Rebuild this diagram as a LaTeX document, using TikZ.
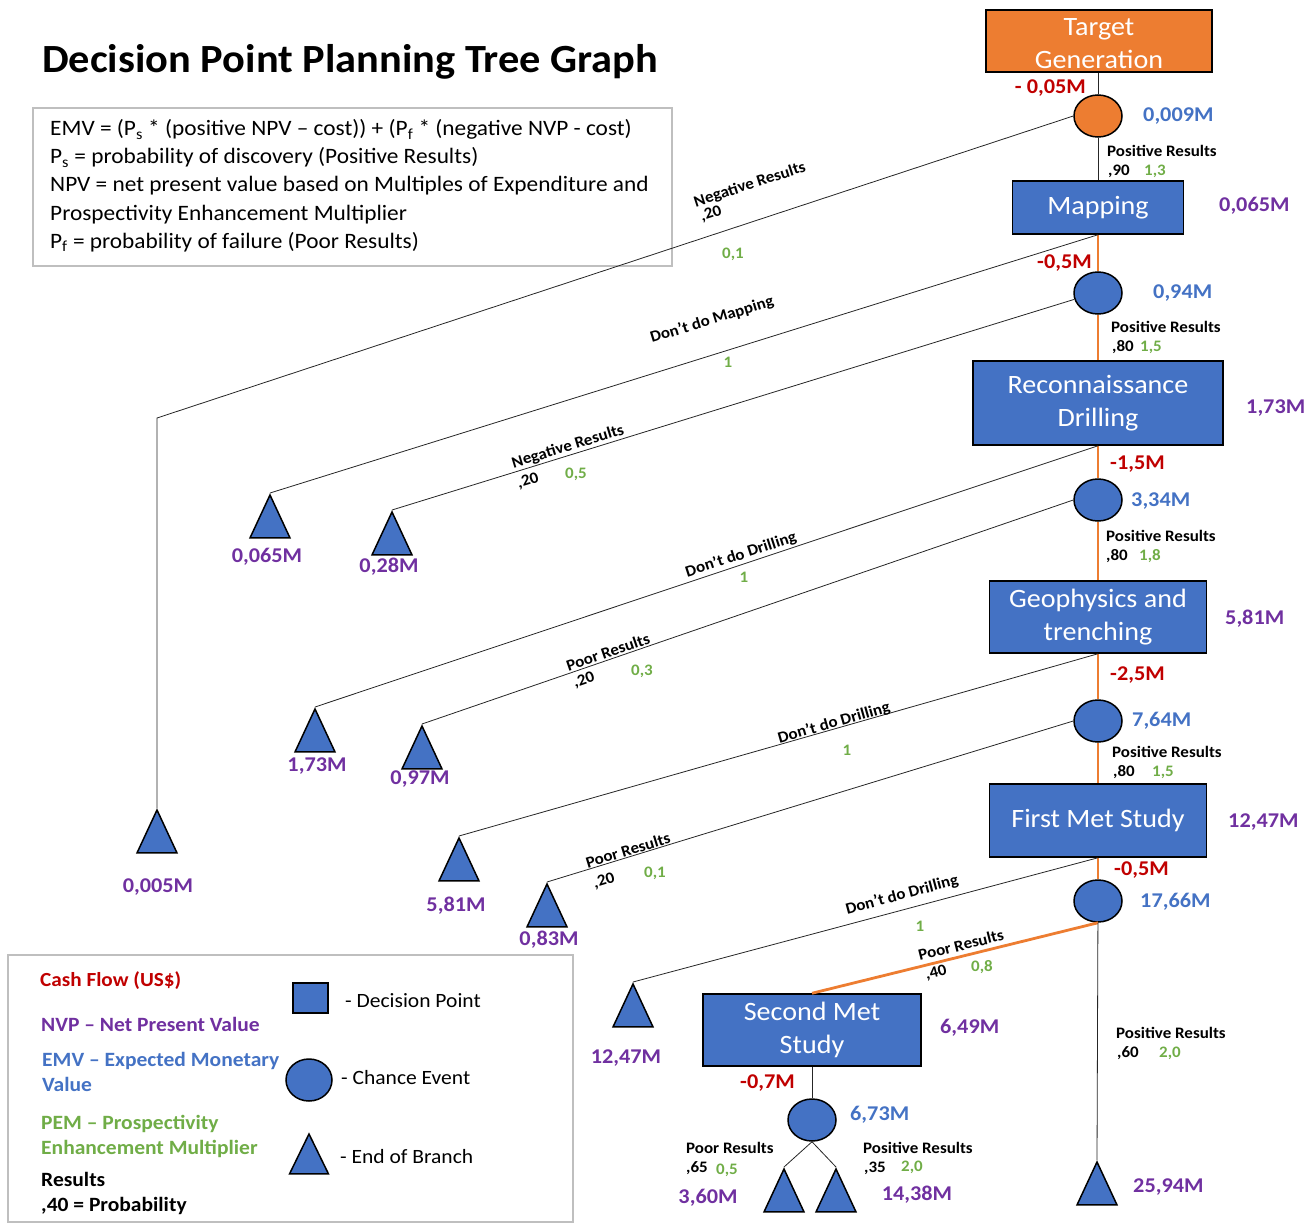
\documentclass[tikz,border=0pt]{standalone}
\usepackage{fontspec}
\setmainfont{Carlito}[FakeStretch=1.06]
\usetikzlibrary{positioning,shapes.geometric}

\definecolor{tgorange}{HTML}{ED7D31}
\definecolor{dpblue}{HTML}{4472C4}
\definecolor{cashred}{HTML}{C00000}
\definecolor{npvpurple}{HTML}{7030A0}
\definecolor{pemgreen}{HTML}{70AD47}
\definecolor{framegray}{HTML}{BFBFBF}

\newcommand{\valfont}{\fontsize{21}{23}\selectfont\bfseries}
\newcommand{\smallfont}{\fontsize{16}{18}\selectfont\bfseries}
\newcommand{\keyfont}{\fontsize{20.3}{25}\selectfont}
\newcommand{\lowered}[1]{\raisebox{-3pt}[\height][\depth]{#1}}

\tikzset{
  decision/.style={draw=black,line width=1.5pt,fill=dpblue,text=white,
    font=\fontsize{26.5}{33}\selectfont,align=center,inner sep=0pt},
  chance/.style={ellipse,draw=black,line width=1.5pt,fill=dpblue,
    minimum width=48pt,minimum height=42pt,inner sep=0pt},
  branchend/.style={isosceles triangle,isosceles triangle stretches,
    shape border rotate=90,draw=black,line width=1.5pt,fill=dpblue,
    minimum width=40pt,minimum height=43pt,inner sep=0pt,anchor=apex},
  branch/.style={draw=black!85,line width=0.8pt},
  chosen/.style={draw=tgorange,line width=2.8pt},
  cost/.style={text=cashred,font=\valfont,inner sep=0pt},
  npv/.style={text=npvpurple,font=\valfont,inner sep=0pt},
  emv/.style={text=dpblue,font=\valfont,inner sep=0pt},
  pem/.style={text=pemgreen,font=\smallfont,inner sep=0pt},
  outcome/.style={font=\smallfont,inner sep=0pt},
  prob/.style={font=\smallfont,inner sep=0pt},
  defline/.style={anchor=west,font=\fontsize{22}{24}\selectfont,inner sep=0pt,
    text height=14pt,text depth=4pt},
}

\begin{document}
\begin{tikzpicture}[x=1pt,y=-1pt]
\useasboundingbox (0,0) rectangle (1314,1225);

% heading and the EMV definitions
\node[anchor=west,inner sep=0pt,font=\fontsize{40}{48}\selectfont\bfseries] (title) at (42,62) {Decision Point Planning Tree Graph};
\node[draw=framegray,line width=1.5pt,minimum width=639pt,minimum height=158pt,inner sep=0pt] (defs) at (352.5,187) {};
\node[defline] (d1) at (50,131) {EMV = (P\textsubscript{s} * (positive NPV – cost)) + (P\textsubscript{f} * (negative NVP - cost)};
\node[defline] (d2) at (50,159) {P\textsubscript{s} = probability of discovery (Positive Results)};
\node[defline] (d3) at (50,187) {NPV = net present value based on Multiples of Expenditure and};
\node[defline] (d4) at (50,215) {Prospectivity Enhancement Multiplier};
\node[defline] (d5) at (50,243) {P\textsubscript{f} = probability of failure (Poor Results)};

% main line of stages
\node[decision,fill=tgorange,minimum width=226pt,minimum height=62pt] (target) at (1099,41) {\lowered{Target}\\\lowered{Generation}};
\node[chance,fill=tgorange] (c1) at (1098,116) {};
\node[decision,minimum width=171pt,minimum height=53pt] (map) at (1098,207.5) {Mapping};
\node[chance] (c2) at (1098,293) {};
\node[decision,minimum width=250pt,minimum height=84pt] (recon) at (1098,403) {Reconnaissance\\Drilling};
\node[chance] (c3) at (1098,500) {};
\node[decision,minimum width=217pt,minimum height=72pt] (geo) at (1098,617) {Geophysics and\\trenching};
\node[chance] (c4) at (1098,721) {};
\node[decision,minimum width=217pt,minimum height=73pt] (met1) at (1098,820.5) {First Met Study};
\node[chance] (c5) at (1098,901) {};
\node[decision,minimum width=218pt,minimum height=72pt] (met2) at (812,1030) {Second Met\\Study};
\node[chance] (c6) at (812,1120) {};

% ends of branches
\node[branchend] (e0) at (157,808) {};
\coordinate (knee) at (157,418);
\node[branchend] (e1) at (270,493) {};
\node[branchend] (e2) at (392,510) {};
\node[branchend] (e3) at (315,707) {};
\node[branchend] (e4) at (422,724) {};
\node[branchend] (e5) at (459,836) {};
\node[branchend] (e6) at (547,882) {};
\node[branchend] (e7) at (633,982) {};
\node[branchend] (e8) at (784,1167) {};
\node[branchend] (e9) at (836,1167) {};
\node[branchend] (e10) at (1097,1160) {};

% connectors
\draw[branch] (c1 |- target.south) -- (c1) -- (map);
\draw[chosen] (map) -- (c2) -- (recon) -- (c3) -- (geo) -- (c4) -- (met1) -- (c5);
\draw[chosen] (c5.south) -- (met2.north);
\draw[branch] (met2) -- (c6);
\draw[branch] (c6.south) -- (e8.apex);
\draw[branch] (c6.south) -- (e9.apex);
\draw[branch] (c5) -- (e10.apex);
\draw[branch] (c1.west) -- (knee) -- (e0.apex);
\draw[branch] (map.south) -- (e1.apex);
\draw[branch] (c2.195) -- (e2.apex);
\draw[branch] (recon.south) -- (e3.apex);
\draw[branch] (c3.west) -- (e4.apex);
\draw[branch] (geo.south) -- (e5.apex);
\draw[branch] (c4.west) -- (e6.apex);
\draw[branch] (met1.south) -- (e7.apex);

% values along the main line
\node[cost,anchor=east] at (1086,88) {- 0,05M};
\node[emv,anchor=west] at (1143,116) {0,009M};
\node[outcome,anchor=west] at (1107,151) {Positive Results};
\node[prob,anchor=west] at (1108,171) {,90};
\node[pem] at (1155,171) {1,3};
\node[npv,anchor=west] at (1219,206) {0,065M};
\node[cost,anchor=east] at (1092,263) {-0,5M};
\node[emv,anchor=west] at (1153,293) {0,94M};
\node[outcome,anchor=west] at (1111,327) {Positive Results};
\node[prob,anchor=west] at (1112,347) {,80};
\node[pem] at (1151,347) {1,5};
\node[npv,anchor=west] at (1246,408) {1,73M};
\node[cost,anchor=west] at (1110,464) {-1,5M};
\node[emv,anchor=west] at (1131,501) {3,34M};
\node[outcome,anchor=west] at (1106,536) {Positive Results};
\node[prob,anchor=west] at (1106,556) {,80};
\node[pem] at (1150,556) {1,8};
\node[npv,anchor=west] at (1225,619) {5,81M};
\node[cost,anchor=west] at (1110,675) {-2,5M};
\node[emv,anchor=west] at (1132,721) {7,64M};
\node[outcome,anchor=west] at (1112,752) {Positive Results};
\node[prob,anchor=west] at (1113,772) {,80};
\node[pem] at (1163,772) {1,5};
\node[npv,anchor=west] at (1228,822) {12,47M};
\node[cost,anchor=west] at (1114,870) {-0,5M};
\node[emv,anchor=west] at (1140,902) {17,66M};
\node[outcome,anchor=west] at (1116,1033) {Positive Results};
\node[prob,anchor=west] at (1117,1053) {,60};
\node[pem] at (1170,1053) {2,0};
\node[npv,anchor=west] at (1133,1187) {25,94M};
\node[npv,anchor=west] at (940,1028) {6,49M};
\node[cost,anchor=east] at (795,1083) {-0,7M};
\node[emv,anchor=west] at (850,1115) {6,73M};
\node[outcome,anchor=west] at (686,1148) {Poor Results};
\node[prob,anchor=west] at (686,1168) {,65};
\node[pem] at (727,1170) {0,5};
\node[npv] at (708,1198) {3,60M};
\node[outcome,anchor=west] at (863,1148) {Positive Results};
\node[prob,anchor=west] at (864,1168) {,35};
\node[pem] at (912,1167) {2,0};
\node[npv] at (917,1195) {14,38M};

% side branches
\node[outcome,rotate=18] at (750,185) {Negative Results};
\node[prob,rotate=18] at (711,214) {,20};
\node[pem] at (733,254) {0,1};
\node[outcome,rotate=17] at (712,320) {Don’t do Mapping};
\node[pem] at (728,362) {1};
\node[outcome,rotate=17] at (568,447) {Negative Results};
\node[prob,rotate=17] at (528,481) {,20};
\node[pem] at (576,474) {0,5};
\node[outcome,rotate=18] at (741,555) {Don’t do Drilling};
\node[pem] at (744,577) {1};
\node[outcome,rotate=19] at (608,652) {Poor Results};
\node[prob,rotate=19] at (584,680) {,20};
\node[pem] at (642,671) {0,3};
\node[outcome,rotate=16] at (834,723) {Don’t do Drilling};
\node[pem] at (847,750) {1};
\node[outcome,rotate=17] at (628,850) {Poor Results};
\node[prob,rotate=17] at (604,881) {,20};
\node[pem] at (655,873) {0,1};
\node[outcome,rotate=15] at (902,895) {Don’t do Drilling};
\node[pem] at (920,926) {1};
\node[outcome,rotate=14] at (961,945) {Poor Results};
\node[prob,rotate=14] at (936,973) {,40};
\node[pem] at (982,967) {0,8};

% values at the ends
\node[npv] at (158,887) {0,005M};
\node[npv] at (267,557) {0,065M};
\node[npv] at (389,567) {0,28M};
\node[npv] at (317,766) {1,73M};
\node[npv] at (420,779) {0,97M};
\node[npv] at (456,906) {5,81M};
\node[npv] at (549,940) {0,83M};
\node[npv] at (626,1058) {12,47M};

% key
\node[draw=framegray,line width=1.5pt,minimum width=565pt,minimum height=267pt,inner sep=0pt] (key) at (290.5,1088.5) {};
\node[cost,anchor=west,font=\fontsize{20}{25}\selectfont\bfseries] at (40,981) {Cash Flow (US\$)};
\node[npv,anchor=west,font=\keyfont\bfseries] at (41,1024) {NVP – Net Present Value};
\node[emv,anchor=west,align=left,font=\keyfont\bfseries] at (42,1072) {EMV – Expected Monetary\\Value};
\node[pem,anchor=west,align=left,font=\keyfont\bfseries] at (41,1136) {PEM – Prospectivity\\Enhancement Multiplier};
\node[outcome,anchor=west,align=left,font=\keyfont\bfseries] at (41,1193) {Results\\,40 = Probability};
\node[decision,minimum width=35pt,minimum height=30pt] (keydec) at (310.5,998) {};
\node[anchor=west,inner sep=0pt,font=\keyfont] at (345,1001) {- Decision Point};
\node[chance,minimum width=46pt,minimum height=42pt] (keycha) at (309,1080) {};
\node[anchor=west,inner sep=0pt,font=\keyfont] at (341,1078) {- Chance Event};
\node[branchend,minimum width=39pt,minimum height=40pt] (keyend) at (309,1132) {};
\node[anchor=west,inner sep=0pt,font=\keyfont] at (340,1157) {- End of Branch};
\end{tikzpicture}
\end{document}
